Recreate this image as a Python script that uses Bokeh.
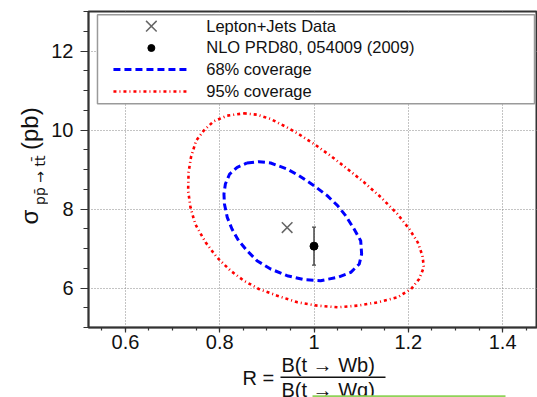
import numpy as np
from math import pi
from bokeh.plotting import figure
from bokeh.layouts import row, column
from bokeh.models import Label, Range1d, FixedTicker
from bokeh.core.properties import value
from bokeh.embed import file_html
from bokeh.resources import INLINE

# ---------------- data ----------------
x_ticks = [0.6, 0.8, 1.0, 1.2, 1.4]
x_tick_labels = ["0.6", "0.8", "1", "1.2", "1.4"]
y_ticks = [6, 8, 10, 12]
y_tick_labels = ["6", "8", "10", "12"]

data_x = [0.943]
data_y = [7.53]

nlo_x = [1.0]
nlo_y = [7.06]
nlo_err = [0.48]

cl68_x = [0.858, 0.883, 0.908, 0.943, 0.968, 1.000, 1.028, 1.050, 1.067, 1.085,
          1.099, 1.101, 1.096, 1.078, 1.050, 1.014, 0.979, 0.943, 0.908, 0.879,
          0.858, 0.840, 0.826, 0.816, 0.810, 0.809, 0.812, 0.821, 0.837]
cl68_y = [9.165, 9.198, 9.165, 9.013, 8.844, 8.591, 8.338, 8.084, 7.831, 7.494,
          7.198, 6.861, 6.608, 6.397, 6.270, 6.186, 6.211, 6.312, 6.481, 6.692,
          6.945, 7.198, 7.494, 7.789, 8.127, 8.380, 8.633, 8.886, 9.055]

cl95_x = [0.851, 0.879, 0.908, 0.940, 0.965, 1.000, 1.035, 1.071, 1.106, 1.142,
          1.177, 1.202, 1.220, 1.230, 1.233, 1.223, 1.206, 1.177, 1.135, 1.092,
          1.050, 1.007, 0.965, 0.922, 0.883, 0.851, 0.823, 0.794, 0.770, 0.748,
          0.738, 0.733, 0.734, 0.739, 0.750, 0.766, 0.787, 0.816]
cl95_y = [10.422, 10.388, 10.278, 10.084, 9.916, 9.646, 9.350, 9.013, 8.675, 8.295,
          7.873, 7.494, 7.156, 6.819, 6.523, 6.228, 5.975, 5.764, 5.637, 5.553,
          5.511, 5.553, 5.637, 5.806, 5.975, 6.186, 6.439, 6.776, 7.156, 7.620,
          8.042, 8.464, 8.928, 9.308, 9.730, 9.983, 10.219, 10.363]

legend_labels = ["Lepton+Jets Data", "NLO PRD80, 054009 (2009)",
                 "68% coverage", "95% coverage"]

x_title_left = "R ="
x_title_num = "B(t → Wb)"
x_title_den = "B(t → Wq)"
y_title_main = "σ"
y_title_sub = "pp̄ → tt̄"
y_title_unit = "(pb)"

# ---------------- layout ----------------
PAGE_W, PAGE_H = 537, 397
LEFT_W = 48          # strip with the y title
MAIN_H = 356         # main plot height (x title strip below)
MW = PAGE_W - LEFT_W
BL, BR, BT, BB = 39, 0, 11, MAIN_H - 327
X0, X1 = 0.5217, 1.474
Y0, Y1 = 5.0, 13.0
FL, FT = LEFT_W + BL, BT
FW, FH = MW - BL - BR, MAIN_H - BT - BB
BASE_K = 0.35        # baseline correction (fraction of font size) for rendered text

FONT = "Liberation Sans"
AX = "#333333"
TXT = "#111111"


def fx(px):
    return X0 + (px - FL) * (X1 - X0) / FW


def fy(py):
    return Y1 - (py - FT) * (Y1 - Y0) / FH


p = figure(width=MW, height=MAIN_H, x_range=Range1d(X0, X1), y_range=Range1d(Y0, Y1),
           output_backend="svg", toolbar_location=None,
           min_border_left=BL, min_border_right=BR,
           min_border_top=BT, min_border_bottom=BB)
p.background_fill_color = "white"
p.border_fill_color = "white"
p.outline_line_color = AX
p.outline_line_width = 2

p.xaxis.ticker = FixedTicker(ticks=x_ticks, minor_ticks=list(np.arange(0.55, 1.4751, 0.05)))
p.xaxis.major_label_overrides = {t: l for t, l in zip(x_ticks, x_tick_labels)}
p.yaxis.ticker = FixedTicker(ticks=y_ticks, minor_ticks=list(np.arange(5.0, 13.01, 0.5)))
p.yaxis.major_label_overrides = {t: l for t, l in zip(y_ticks, y_tick_labels)}

for ax in (p.xaxis[0], p.yaxis[0]):
    ax.axis_line_color = AX
    ax.axis_line_width = 1.5
    ax.major_tick_line_color = AX
    ax.minor_tick_line_color = AX
    ax.major_tick_line_width = 1.2
    ax.minor_tick_line_width = 1.2
    ax.major_tick_in = 0
    ax.minor_tick_in = 0
    ax.major_label_text_font = FONT
    ax.major_label_text_font_size = "20px"
    ax.major_label_text_color = TXT

p.xaxis.major_tick_out = 5
p.xaxis.minor_tick_out = 3
p.xaxis.major_label_standoff = 2
p.yaxis.major_tick_out = 8
p.yaxis.minor_tick_out = 5
p.yaxis.major_label_standoff = 7

for g in (p.xgrid[0], p.ygrid[0]):
    g.grid_line_color = "#888888"
    g.grid_line_dash = "1 2"
    g.grid_line_width = 1

# ---------------- contours & points ----------------
p.line(cl95_x + cl95_x[:1], cl95_y + cl95_y[:1], line_color="red", line_width=2.6,
       line_dash="3 3 1 3", line_join="round")
p.line(cl68_x + cl68_x[:1], cl68_y + cl68_y[:1], line_color="blue", line_width=3,
       line_dash="7 4", line_join="round")

lo = [y - e for y, e in zip(nlo_y, nlo_err)]
hi = [y + e for y, e in zip(nlo_y, nlo_err)]
p.segment(x0=nlo_x, y0=lo, x1=nlo_x, y1=hi, line_color="#444444", line_width=1.5)
cap = 2.0 * (X1 - X0) / FW
for yy in (lo, hi):
    p.segment(x0=[x - cap for x in nlo_x], y0=yy, x1=[x + cap for x in nlo_x], y1=yy,
              line_color="#444444", line_width=1.2)
p.scatter(nlo_x, nlo_y, marker="circle", size=8, fill_color="black", line_color="black")
p.scatter(data_x, data_y, marker="x", size=15, line_color="#666666", line_width=1.5)

# ---------------- legend ----------------
LEG_FS = 16.5
p.quad(left=[fx(96)], right=[fx(534)], top=[fy(14.3)], bottom=[fy(103.3)],
       fill_color="white", line_color="#9a9a9a", line_width=1.5)
p.scatter([fx(150)], [fy(25.7)], marker="x", size=15, line_color="#666666", line_width=1.5)
p.scatter([fx(150)], [fy(47.5)], marker="circle", size=7, fill_color="black", line_color="black")
p.line([fx(112), fx(186)], [fy(69)] * 2, line_color="blue", line_width=3, line_dash="7 4")
p.line([fx(112), fx(186)], [fy(91)] * 2, line_color="red", line_width=2.6, line_dash="3 3 1 3")
for lab, by in zip(legend_labels, [31.0, 52.5, 74.5, 96.0]):
    p.add_layout(Label(x=fx(205), y=fy(by - BASE_K * LEG_FS), text=lab, text_font=FONT,
                       text_font_size=f"{LEG_FS}px", text_color=TXT,
                       text_baseline="alphabetic", text_align="left"))


def strip(w, h):
    s = figure(width=w, height=h, x_range=Range1d(0, w), y_range=Range1d(h, 0),
               output_backend="svg", toolbar_location=None,
               x_axis_location=None, y_axis_location=None,
               min_border_left=0, min_border_right=0, min_border_top=0, min_border_bottom=0)
    s.outline_line_color = None
    s.background_fill_color = "white"
    s.border_fill_color = "white"
    for g in s.grid:
        g.visible = False
    return s


# ---------------- y title strip (rotated: baseline is a vertical line) ----------------
ys = strip(LEFT_W, MAIN_H)
ys.text(x=[37 - BASE_K * 24], y=[240], text=[y_title_main], angle=pi / 2, text_font=value(FONT),
        text_font_size=value("24px"), text_color=TXT, text_baseline="alphabetic")
ys.text(x=[44 - BASE_K * 14], y=[218], text=[y_title_sub], angle=pi / 2,
        text_font=value("DejaVu Sans"), text_font_size=value("14px"), text_color=TXT,
        text_baseline="alphabetic")
ys.text(x=[37 - BASE_K * 24], y=[156], text=[y_title_unit], angle=pi / 2, text_font=value(FONT),
        text_font_size=value("24px"), text_color=TXT, text_baseline="alphabetic")

# ---------------- x title strip ----------------
XS_H = PAGE_H - MAIN_H
xs = strip(PAGE_W, XS_H)
oy = MAIN_H + BASE_K * 20
xs.text(x=[242], y=[384 - oy], text=[x_title_left], text_font=value(FONT),
        text_font_size=value("20px"), text_color=TXT, text_baseline="alphabetic")
xs.text(x=[281, 281], y=[371 - oy, 396.5 - oy], text=[x_title_num, x_title_den],
        text_font=value(FONT), text_font_size=value("20px"), text_color=TXT,
        text_baseline="alphabetic")
xs.segment(x0=[280], y0=[376.7 - MAIN_H], x1=[385], y1=[376.7 - MAIN_H], line_color=TXT,
           line_width=1.5)
xs.segment(x0=[312], y0=[396 - MAIN_H], x1=[505], y1=[396 - MAIN_H], line_color="#8fd35a",
           line_width=2.5)

layout = column(row(ys, p), xs)
open("out.html", "w").write(file_html(layout, INLINE))
